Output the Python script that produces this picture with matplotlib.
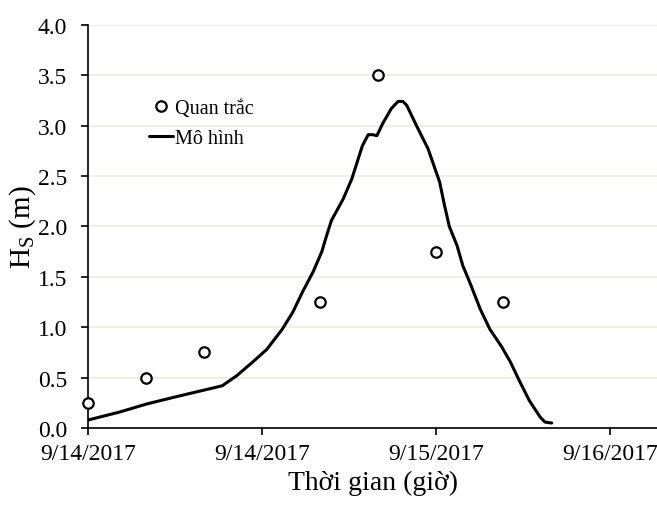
import numpy as np
import matplotlib.pyplot as plt

"""
Data (hours since 9/14/2017 00:00)
"""
obs_hours = [0, 6, 12, 24, 30, 36, 43]
obs_hs = [0.25, 0.50, 0.75, 1.25, 3.50, 1.75, 1.25]

model_hours = [0, 3.3, 6.1, 9.5, 12.6, 13.9, 15.4, 17.1, 18.5, 20.1, 21.2, 22.2,
               23.3, 24.2, 24.7, 25.2, 26.4, 27.3, 28.4, 29.0, 29.5, 29.9, 30.5,
               31.4, 32.1, 32.6, 33.0, 34.0, 35.2, 36.4, 36.9, 37.4, 38.2, 38.8,
               39.5, 40.6, 41.6, 42.8, 43.7, 44.7, 45.7, 46.8, 47.3, 48.0]
model_hs = [0.08, 0.16, 0.24, 0.32, 0.39, 0.42, 0.52, 0.66, 0.78, 0.98, 1.15, 1.35,
            1.55, 1.75, 1.91, 2.06, 2.27, 2.47, 2.80, 2.91, 2.91, 2.90, 3.02,
            3.17, 3.24, 3.24, 3.20, 3.00, 2.77, 2.44, 2.21, 2.00, 1.81, 1.61,
            1.45, 1.18, 0.98, 0.81, 0.66, 0.46, 0.27, 0.11, 0.06, 0.05]

tick_hours = [0, 18, 36, 54]
tick_labels = ['9/14/2017', '9/14/2017', '9/15/2017', '9/16/2017']

"""
Plot
"""
plt.rcParams['font.family'] = ['Liberation Serif', 'DejaVu Serif']
plt.rcParams['mathtext.fontset'] = 'custom'
plt.rcParams['mathtext.rm'] = 'Liberation Serif'

fig = plt.figure(figsize=(6.57, 5.06), dpi=100)
ax = fig.add_axes([0.134, 0.152, 0.866, 0.797])

ax.plot(obs_hours, obs_hs, 'o', mfc='white', mec='black', ms=7.5, mew=1.6,
        label='Quan trắc', zorder=3, clip_on=False)
ax.plot(model_hours, model_hs, '-', color='black', lw=2.2, label='Mô hình',
        zorder=2, solid_joinstyle='round', solid_capstyle='round')

ax.set_xlim(0, 58.9)
ax.set_ylim(0, 4.0)
ax.set_yticks(np.arange(0, 4.01, 0.5))
ax.set_yticklabels([f'{v:.1f}' for v in np.arange(0, 4.01, 0.5)])
ax.set_xticks(tick_hours)
ax.set_xticklabels(tick_labels)

ax.grid(axis='y', color='#ecece2', lw=1.2)
ax.set_axisbelow(True)
for s in ['top', 'right']:
    ax.spines[s].set_visible(False)
for s in ['left', 'bottom']:
    ax.spines[s].set_color('black')
    ax.spines[s].set_linewidth(1.2)
ax.tick_params(axis='both', direction='out', length=5, width=1.2, labelsize=17)
ax.tick_params(axis='y', pad=10)
ax.tick_params(axis='x', pad=6)

ax.set_xlabel('Thời gian (giờ)', fontsize=20, labelpad=4)
ax.set_ylabel(r'H$_\mathregular{S}$ (m)', fontsize=21, labelpad=0)

leg = ax.legend(loc='upper left', bbox_to_anchor=(0.09, 0.84), frameon=False,
                fontsize=14.5, handlelength=1.2, handletextpad=0.1,
                labelspacing=0.5, borderpad=0)

fig.savefig('out.png', dpi=100)
